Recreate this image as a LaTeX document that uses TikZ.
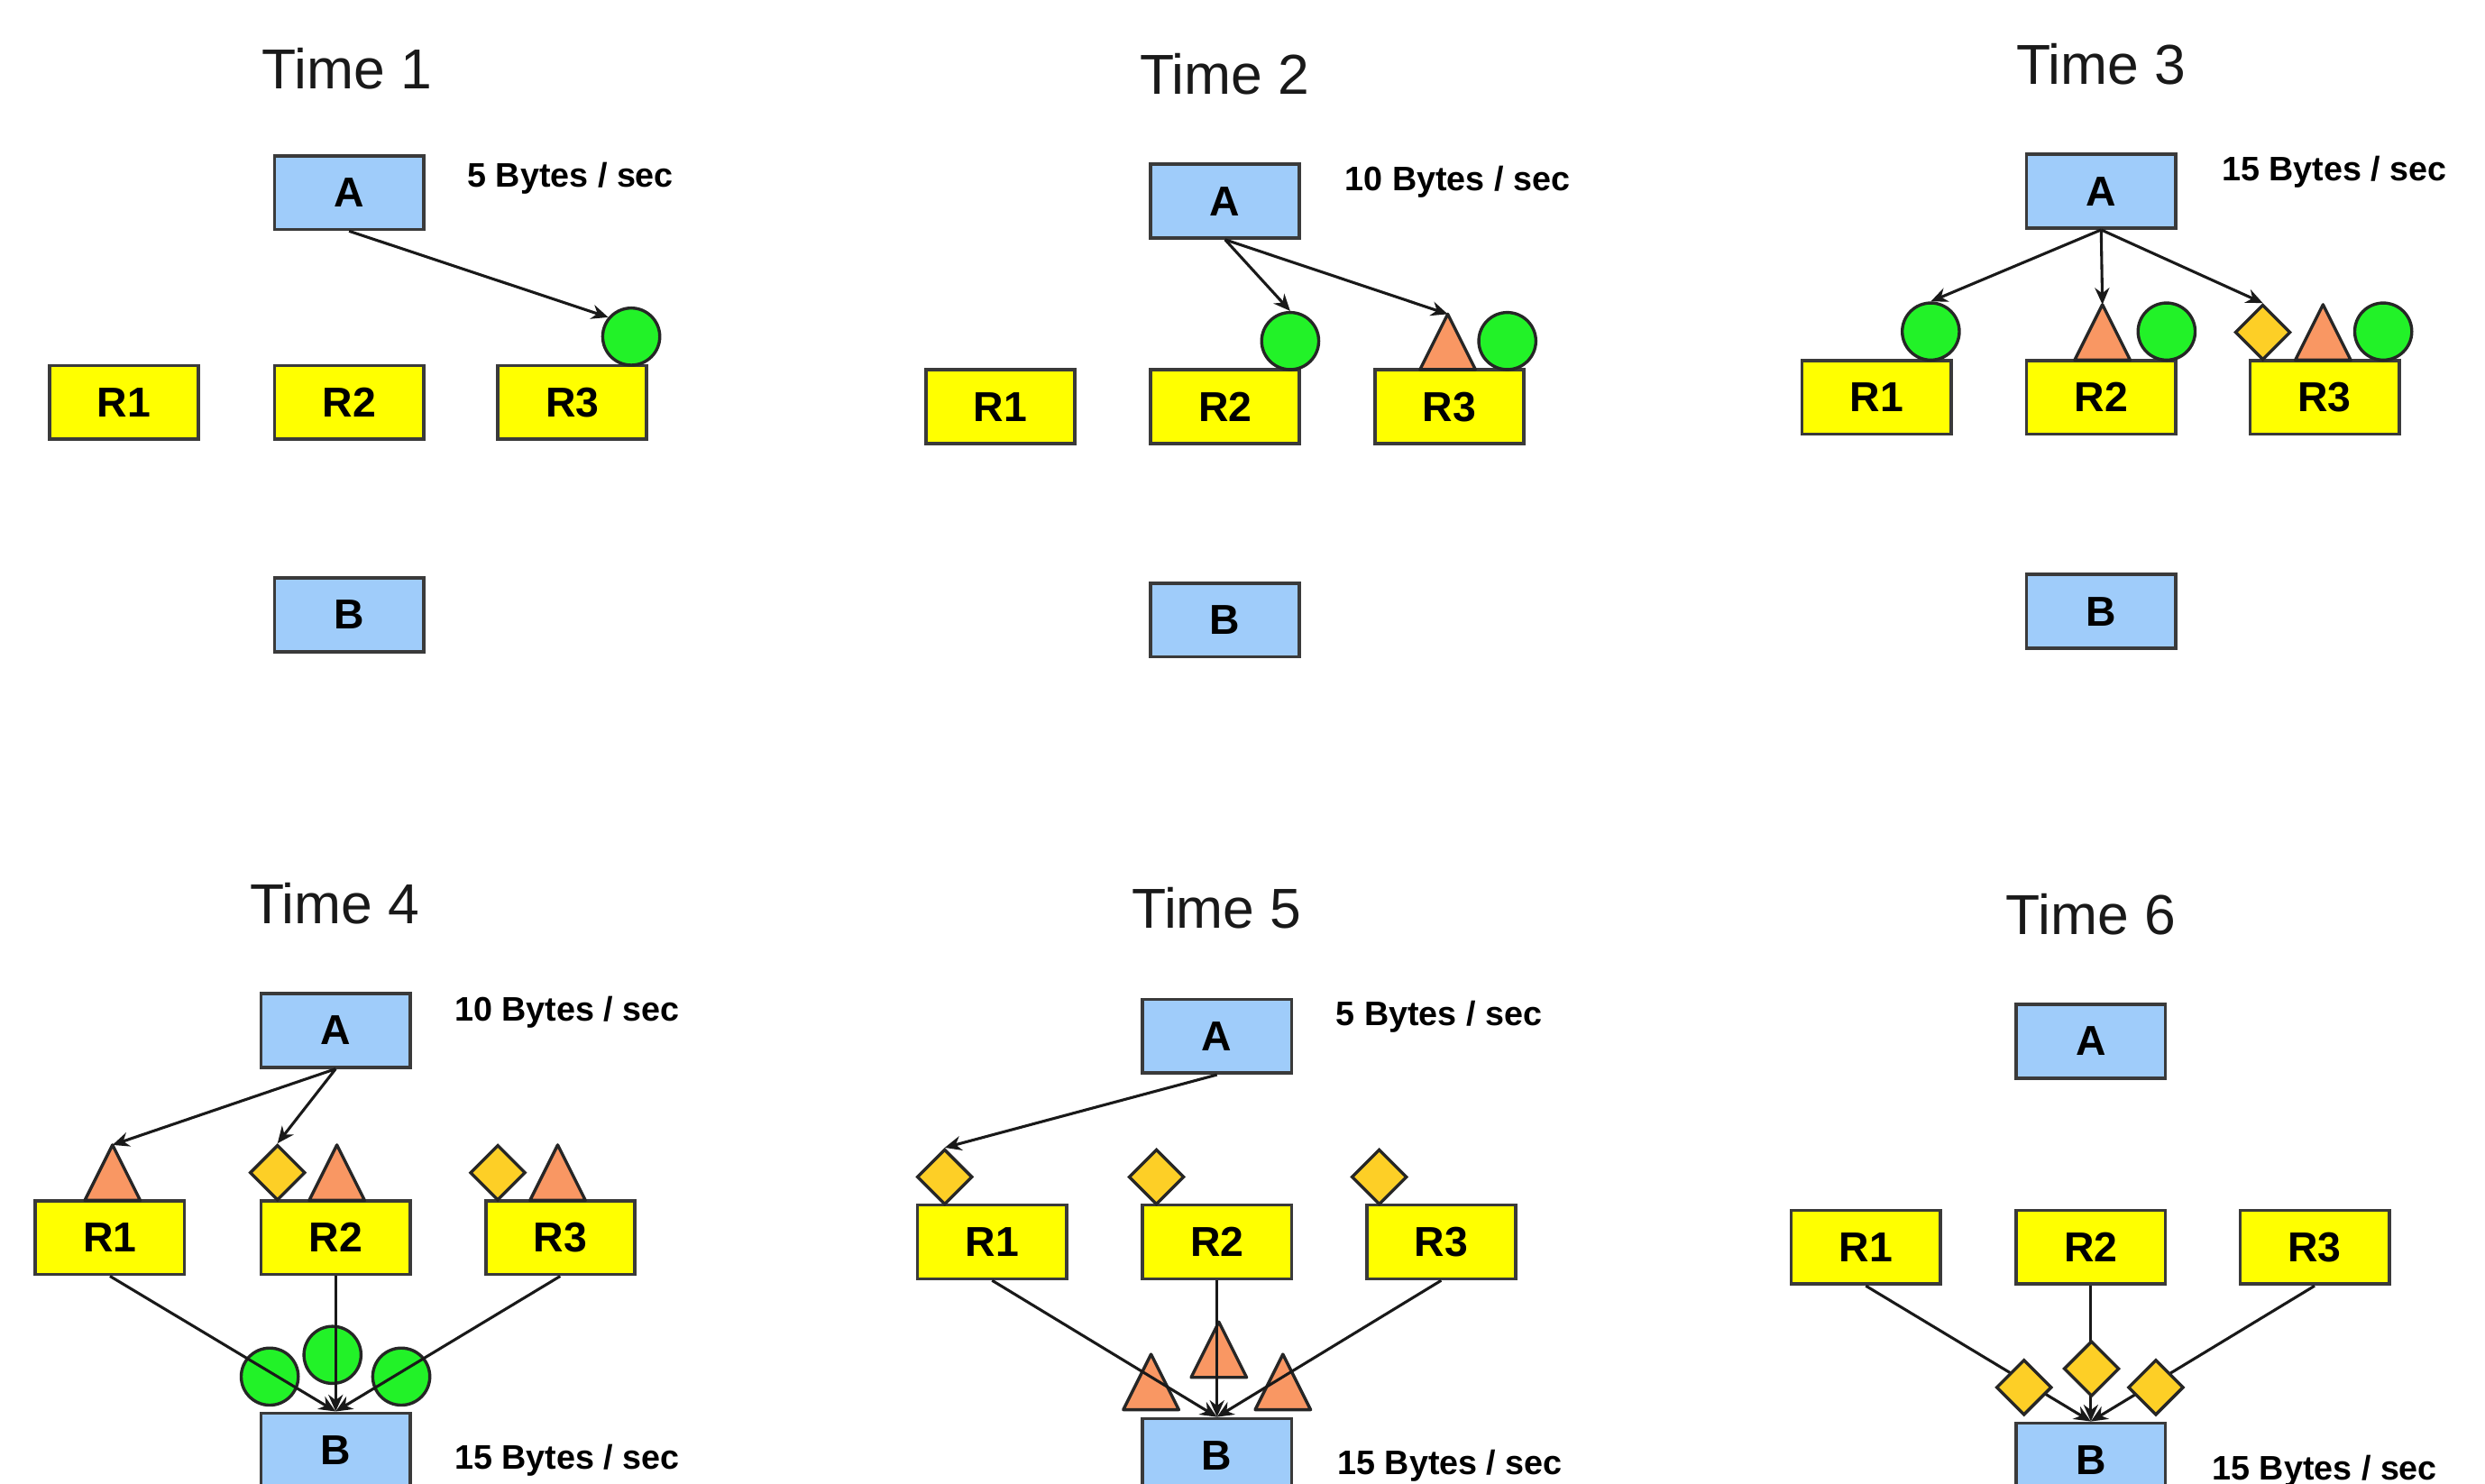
\documentclass[tikz,border=0pt]{standalone}
\usepackage{fontspec}
\setmainfont{Liberation Sans}
\usetikzlibrary{shapes.geometric,arrows.meta}

\definecolor{hostblue}{HTML}{9FCCFA}
\definecolor{relayyellow}{HTML}{FFFF00}
\definecolor{pktgreen}{HTML}{22F228}
\definecolor{pktorange}{HTML}{F99763}
\definecolor{pktgold}{HTML}{FDCF26}
\definecolor{edgegray}{HTML}{3A3A3A}

\tikzset{
  box/.style={draw=edgegray, line width=0.6pt, minimum width=0.94cm, minimum height=0.465cm,
    inner sep=0pt, font=\fontsize{7.5}{9}\selectfont\bfseries},
  host/.style={box, fill=hostblue},
  relay/.style={box, fill=relayyellow},
  title/.style={anchor=base, inner sep=0pt, font=\fontsize{10.1}{12}\selectfont, text=black!90},
  rate/.style={anchor=base west, inner sep=0pt, font=\fontsize{6.1}{7}\selectfont\bfseries},
  pktline/.style={draw=black!85, line width=0.55pt},
  circ/.style={circle, pktline, fill=pktgreen, minimum size=0.36cm, inner sep=0pt},
  dia/.style={diamond, pktline, fill=pktgold, minimum size=0.35cm, inner sep=0pt},
  tri/.pic={\path[pktline, fill=pktorange, line join=round] (-17.5,0) -- (0,-35) -- (17.5,0) -- cycle;
            \coordinate (-apex) at (0,-35);},
  flow/.style={draw=black!90, line width=0.5pt, -{Stealth[length=3pt,width=2.6pt]}},
}

\begin{document}
\begin{tikzpicture}[x=0.01cm, y=-0.01cm]
\useasboundingbox (0,0) rectangle (1568,936);
\clip (0,0) rectangle (1568,936);
\begin{scope}[shift={(-1.2,-0.8)}]

% ---------- Time 1 ----------
\node[title] (t1) at (220,57) {Time 1};
\node[host]  (p1A)  at (221.5,122.3) {A};
\node[relay] (p1R1) at (79.5,254.7)  {R1};
\node[relay] (p1R2) at (221.5,254.7) {R2};
\node[relay] (p1R3) at (362.3,254.7) {R3};
\node[host]  (p1B)  at (221.5,388.8) {B};
\node[rate]  (p1rate) at (295.5,118.6) {5 Bytes / sec};
\node[circ]  (p1c3) at (399.5,213.2) {};
\draw[flow] (p1A.south) -- (p1c3.140);

% ---------- Time 2 ----------
\node[title] (t2) at (774,60.4) {Time 2};
\node[host]  (p2A)  at (774.2,127.7) {A};
\node[relay] (p2R1) at (632.5,257.5) {R1};
\node[relay] (p2R2) at (774.2,257.5) {R2};
\node[relay] (p2R3) at (915.8,257.5) {R3};
\node[host]  (p2B)  at (774.2,392)   {B};
\node[rate]  (p2rate) at (849.2,121.4) {10 Bytes / sec};
\node[circ]  (p2c2) at (815.3,216) {};
\pic (p2t3) at (914.7,234) {tri};
\node[circ]  (p2c3) at (952.3,216) {};
\draw[flow] (p2A.south) -- (p2c2.north);
\draw[flow] (p2A.south) -- (p2t3-apex);

% ---------- Time 3 ----------
\node[title] (t3) at (1327,54) {Time 3};
\node[host]  (p3A)  at (1327,121.5) {A};
\node[relay] (p3R1) at (1185.3,251.5) {R1};
\node[relay] (p3R2) at (1327,251.5) {R2};
\node[relay] (p3R3) at (1468,251.5)   {R3};
\node[host]  (p3B)  at (1327,386.6) {B};
\node[rate]  (p3rate) at (1402.5,115) {15 Bytes / sec};
\node[circ]  (p3c1) at (1219.5,210) {};
\pic (p3t2) at (1327.8,228) {tri};
\node[circ]  (p3c2) at (1368.3,210) {};
\node[dia]   (p3d3) at (1429,210.5) {};
\pic (p3t3) at (1467,228) {tri};
\node[circ]  (p3c3) at (1505,210) {};
\draw[flow] (p3A.south) -- (p3c1.north);
\draw[flow] (p3A.south) -- (p3t2-apex);
\draw[flow] (p3A.south) -- (p3d3.north);

% ---------- Time 4 ----------
\node[title] (t4) at (212.5,583.4) {Time 4};
\node[host]  (p4A)  at (213,651)     {A};
\node[relay] (p4R1) at (70.6,781.8)  {R1};
\node[relay] (p4R2) at (213,781.8)   {R2};
\node[relay] (p4R3) at (354.7,781.8) {R3};
\node[host]  (p4B)  at (213,915.8)   {B};
\node[rate]  (p4rin)  at (287.4,645.4) {10 Bytes / sec};
\node[rate]  (p4rout) at (287.4,927.9) {15 Bytes / sec};
\pic (p4t1) at (72.2,758.3) {tri};
\node[dia]   (p4d2) at (176.3,740.8) {};
\pic (p4t2) at (213.8,758.3) {tri};
\node[dia]   (p4d3) at (315.3,740.8) {};
\pic (p4t3) at (353.1,758.3) {tri};
\draw[flow] (p4A.south) -- (p4t1-apex);
\draw[flow] (p4A.south) -- (p4d2.north);
\node[circ]  (p4c1) at (171.4,869.5) {};
\node[circ]  (p4c2) at (211,855.8)   {};
\node[circ]  (p4c3) at (254.4,869.5) {};
\draw[flow] (p4R1.south) -- (p4B.north);
\draw[flow] (p4R2.south) -- (p4B.north);
\draw[flow] (p4R3.south) -- (p4B.north);

% ---------- Time 5 ----------
\node[title] (t5) at (769,586.3) {Time 5};
\node[host]  (p5A)  at (769.1,654.7) {A};
\node[relay] (p5R1) at (627.2,784.5) {R1};
\node[relay] (p5R2) at (769.1,784.5) {R2};
\node[relay] (p5R3) at (910.6,784.5) {R3};
\node[host]  (p5B)  at (769.1,919.3) {B};
\node[rate]  (p5rin)  at (843.5,648.1) {5 Bytes / sec};
\node[rate]  (p5rout) at (844.5,931.2) {15 Bytes / sec};
\node[dia]   (p5d1) at (597.3,743.5) {};
\node[dia]   (p5d2) at (730.9,743.5) {};
\node[dia]   (p5d3) at (871.5,743.5)   {};
\draw[flow] (p5A.south) -- (p5d1.north);
\pic (p5t1) at (727.5,890.4) {tri};
\pic (p5t2) at (770.3,870)   {tri};
\pic (p5t3) at (810.7,890.4) {tri};
\draw[flow] (p5R1.south) -- (p5B.north);
\draw[flow] (p5R2.south) -- (p5B.north);
\draw[flow] (p5R3.south) -- (p5B.north);

% ---------- Time 6 ----------
\node[title] (t6) at (1320.5,590.4) {Time 6};
\node[host]  (p6A)  at (1320.5,657.9)   {A};
\node[relay] (p6R1) at (1178.5,787.9) {R1};
\node[relay] (p6R2) at (1320.5,787.9)   {R2};
\node[relay] (p6R3) at (1461.7,787.9) {R3};
\node[host]  (p6B)  at (1320.5,922.1)   {B};
\node[rate]  (p6rout) at (1396.4,934.8) {15 Bytes / sec};
\draw[flow] (p6R1.south) -- (p6B.north);
\draw[flow] (p6R2.south) -- (p6B.north);
\draw[flow] (p6R3.south) -- (p6B.north);
\node[dia]   (p6d1) at (1278.3,876.3) {};
\node[dia]   (p6d2) at (1320.9,864.5) {};
\node[dia]   (p6d3) at (1361.5,876.3)   {};
\end{scope}
\end{tikzpicture}
\end{document}
